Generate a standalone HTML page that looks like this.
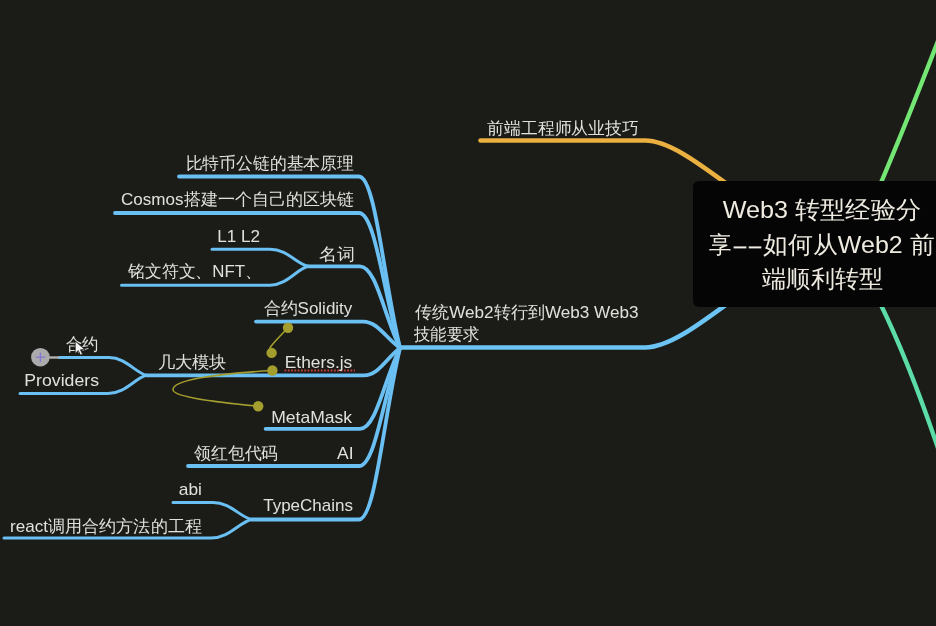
<!DOCTYPE html>
<html><head><meta charset="utf-8">
<style>
html,body{margin:0;padding:0;background:#1b1b17;width:936px;height:626px;overflow:hidden}
svg{display:block;position:absolute;left:0;top:0}
svg.tx{will-change:transform}
text{font-family:"Liberation Sans",sans-serif;fill:#e0e0de}
text.c{fill:#efebe1}
</style></head><body>
<svg width="936" height="626" viewBox="0 0 936 626">
<rect width="936" height="626" fill="#1b1b17"/>
<!-- orange -->
<path d="M480.5,140.5 L645,140.5 C668,140.5 697,162 727,184" stroke="#eab040" stroke-width="4.6" fill="none" stroke-linecap="round"/>
<!-- main blue to center -->
<path d="M399,347.5 L645,347.5 C668,347.5 697,326 727,304" stroke="#6cc4f4" stroke-width="4.6" fill="none" stroke-linecap="round"/>
<!-- green -->
<path d="M880,185 Q904.3,128 938,41" stroke="#74e674" stroke-width="4.4" fill="none"/>
<path d="M880,303 Q908.3,360.6 938,448" stroke="#5cdca6" stroke-width="4.4" fill="none"/>
<rect x="693" y="181" width="260" height="126" rx="6" fill="#050505"/>
<path d="M179,176.5 L359,176.5 C375.40,176.50 383.60,279.40 400,348" stroke="#6abff3" stroke-width="3.8" fill="none" stroke-linecap="round" stroke-linejoin="round"/>
<path d="M115,213 L359,213 C375.40,213.00 383.60,294.00 400,348" stroke="#6abff3" stroke-width="3.8" fill="none" stroke-linecap="round" stroke-linejoin="round"/>
<path d="M308,266.3 L360,266.3 C376.00,266.30 384.00,315.32 400,348" stroke="#6abff3" stroke-width="3.8" fill="none" stroke-linecap="round" stroke-linejoin="round"/>
<path d="M256,321.6 L363,321.6 C377.80,321.60 385.20,337.44 400,348" stroke="#6abff3" stroke-width="3.8" fill="none" stroke-linecap="round" stroke-linejoin="round"/>
<path d="M146.5,375.3 L364,375.3 C378.40,375.30 385.60,358.92 400,348" stroke="#6abff3" stroke-width="3.8" fill="none" stroke-linecap="round" stroke-linejoin="round"/>
<path d="M265.6,428.8 L360,428.8 C376.00,428.80 384.00,380.32 400,348" stroke="#6abff3" stroke-width="3.8" fill="none" stroke-linecap="round" stroke-linejoin="round"/>
<path d="M188,466 L359,466 C375.40,466.00 383.60,395.20 400,348" stroke="#6abff3" stroke-width="3.8" fill="none" stroke-linecap="round" stroke-linejoin="round"/>
<path d="M251.5,519.5 L359,519.5 C375.40,519.50 383.60,416.60 400,348" stroke="#6abff3" stroke-width="3.8" fill="none" stroke-linecap="round" stroke-linejoin="round"/>
<path d="M212,249.3 L270,249.3 C287.10,249.30 296.60,263.75 308,266.3" stroke="#6abff3" stroke-width="3.0" fill="none" stroke-linecap="round" stroke-linejoin="round"/>
<path d="M121.5,285.2 L270,285.2 C287.10,285.20 296.60,269.13 308,266.3" stroke="#6abff3" stroke-width="3.0" fill="none" stroke-linecap="round" stroke-linejoin="round"/>
<path d="M59.3,357.5 L109,357.5 C125.88,357.50 135.25,372.63 146.5,375.3" stroke="#6abff3" stroke-width="3.0" fill="none" stroke-linecap="round" stroke-linejoin="round"/>
<path d="M20,393.6 L108,393.6 C125.33,393.60 134.95,378.05 146.5,375.3" stroke="#6abff3" stroke-width="3.0" fill="none" stroke-linecap="round" stroke-linejoin="round"/>
<path d="M173,502.5 L213,502.5 C230.32,502.50 239.95,516.95 251.5,519.5" stroke="#6abff3" stroke-width="3.0" fill="none" stroke-linecap="round" stroke-linejoin="round"/>
<path d="M4,538 L211,538 C229.22,538.00 239.35,522.27 251.5,519.5" stroke="#6abff3" stroke-width="3.0" fill="none" stroke-linecap="round" stroke-linejoin="round"/>
<!-- grey stub -->
<path d="M45,357.5 L59.3,357.5" stroke="#b4b4b4" stroke-width="2.4"/>
<circle cx="40.4" cy="357.2" r="9.3" fill="#ababab"/>
<path d="M35.6,357.2 H45.2 M40.4,352.4 V362" stroke="#8478d4" stroke-width="1.3"/>
<!-- olive connectors -->
<g stroke="#a39e2e" stroke-width="1.6" fill="none">
<path d="M288,327.7 C283,333 274,342 270.5,347 C268.8,349.5 269.5,351 271.6,352.9"/>
<path d="M272.4,370.5 C215,374 172,380 173,390 C174,397 215,402 258.2,406.2"/>
</g>
<g fill="#a39e2e">
<circle cx="288" cy="327.7" r="5.2"/>
<circle cx="271.6" cy="352.9" r="5.2"/>
<circle cx="272.4" cy="370.5" r="5.2"/>
<circle cx="258.2" cy="406.2" r="5.2"/>
</g>
<!-- red dotted underline -->
<path d="M284.5,370.6 H355" stroke="#c43c3a" stroke-width="2" stroke-dasharray="1.8,1.5"/>
</svg>
<svg class="tx" width="936" height="626" viewBox="0 0 936 626">
<text x="185.61" y="169.10" font-size="17" textLength="168.18" lengthAdjust="spacingAndGlyphs">比特币公链的基本原理</text>
<text x="121.00" y="205.00" font-size="17" textLength="233.37" lengthAdjust="spacingAndGlyphs">Cosmos搭建一个自己的区块链</text>
<text x="217.19" y="242.40" font-size="17" textLength="42.86" lengthAdjust="spacingAndGlyphs">L1 L2</text>
<text x="318.73" y="260.10" font-size="17" textLength="36.03" lengthAdjust="spacingAndGlyphs">名词</text>
<text x="128.00" y="277.10" font-size="17" textLength="133.84" lengthAdjust="spacingAndGlyphs">铭文符文、NFT、</text>
<text x="263.60" y="313.70" font-size="17" textLength="88.72" lengthAdjust="spacingAndGlyphs">合约Solidity</text>
<text x="66.00" y="349.70" font-size="17" textLength="32.69" lengthAdjust="spacingAndGlyphs">合约</text>
<text x="24.34" y="386.20" font-size="17" textLength="74.69" lengthAdjust="spacingAndGlyphs">Providers</text>
<text x="157.78" y="367.70" font-size="17" textLength="68.95" lengthAdjust="spacingAndGlyphs">几大模块</text>
<text x="284.78" y="368.20" font-size="17" textLength="67.48" lengthAdjust="spacingAndGlyphs">Ethers.js</text>
<text x="271.16" y="423.00" font-size="17" textLength="80.97" lengthAdjust="spacingAndGlyphs">MetaMask</text>
<text x="194.00" y="458.90" font-size="17" textLength="84.19" lengthAdjust="spacingAndGlyphs">领红包代码</text>
<text x="337.00" y="458.80" font-size="17" textLength="16.53" lengthAdjust="spacingAndGlyphs">AI</text>
<text x="178.78" y="495.10" font-size="17" textLength="23.13" lengthAdjust="spacingAndGlyphs">abi</text>
<text x="263.20" y="511.00" font-size="17" textLength="89.78" lengthAdjust="spacingAndGlyphs">TypeChains</text>
<text x="10.00" y="531.70" font-size="17" textLength="191.81" lengthAdjust="spacingAndGlyphs">react调用合约方法的工程</text>
<text x="487.20" y="133.90" font-size="17" textLength="151.59" lengthAdjust="spacingAndGlyphs">前端工程师从业技巧</text>
<text x="414.99" y="318.30" font-size="17" textLength="223.54" lengthAdjust="spacingAndGlyphs">传统Web2转行到Web3 Web3</text>
<text x="414.01" y="340.40" font-size="17" textLength="65.47" lengthAdjust="spacingAndGlyphs">技能要求</text>
<text x="722.81" y="218.15" font-size="24" textLength="198.08" lengthAdjust="spacingAndGlyphs" class="c">Web3 转型经验分</text>
<text x="709.00" y="252.70" font-size="24" textLength="22.34" lengthAdjust="spacingAndGlyphs" class="c">享</text>
<text x="762.96" y="252.70" font-size="24" textLength="171.62" lengthAdjust="spacingAndGlyphs" class="c">如何从Web2 前</text>
<text x="762.19" y="287.00" font-size="24" textLength="121.02" lengthAdjust="spacingAndGlyphs" class="c">端顺利转型</text>
<rect x="733.6" y="246.4" width="12.8" height="2" fill="#efebe1"/><rect x="748.7" y="246.4" width="12.6" height="2" fill="#efebe1"/>
<!-- cursor -->
<path d="M75.2,341.0 L75.2,353.5 L78.3,350.6 L80.5,355.2 L82.6,354.3 L80.5,349.8 L84.8,349.6 Z" fill="#f4f4f4" stroke="#1a1a1a" stroke-width="0.8" stroke-linejoin="round"/>
</svg>
</body></html>
